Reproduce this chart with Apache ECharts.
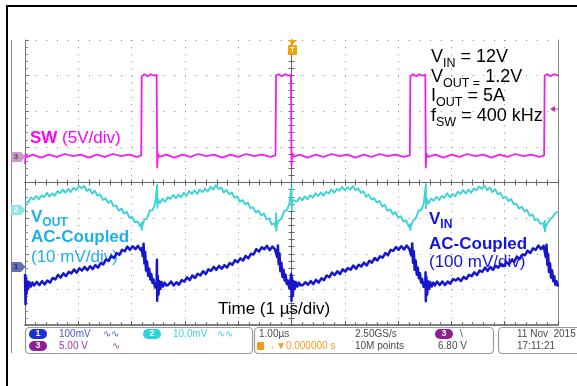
<!DOCTYPE html>
<html>
<head>
<meta charset="utf-8">
<title>Buck converter ripple</title>
<script src="https://cdn.jsdelivr.net/npm/echarts@6/dist/echarts.min.js"></script>
<style>
  html, body { margin: 0; padding: 0; background: #fff; }
  #main { width: 577px; height: 386px; }
</style>
</head>
<body>
<div id="main"></div>
<script>
// scope screen: 10 x 8 divisions, 1 us/div, trigger (SW falling edge) at t = 0
var timeRange = [-5, 5];
var divRange = [-4, 4];

// channel settings: scale per div and ground marker (div from screen centre)
var swScale = 5, swGround = 0.72;        // V/div
var voutScale = 10, voutGround = -0.77;  // mV/div
var vinScale = 100, vinGround = -2.37;   // mV/div

// SW node [us, V]
var swTrace = [
  [-5.00,-1.0],[-4.99,0.4],[-4.96,0.0],[-4.85,0.3],[-4.70,-0.1],[-4.55,0.3],[-4.40,0.0],[-4.25,0.4],[-4.10,0.1],[-3.95,0.3],[-3.80,-0.1],[-3.65,0.3],[-3.50,0.0],[-3.35,0.4],[-3.20,0.1],[-3.05,0.3],[-2.90,0.0],[-2.82,0.2],
  [-2.81,11.3],[-2.76,11.6],[-2.70,11.3],[-2.64,11.6],[-2.58,11.4],[-2.53,11.5],
  [-2.52,-1.5],[-2.51,0.5],[-2.48,0.0],[-2.35,0.3],[-2.20,-0.1],[-2.05,0.3],[-1.90,0.0],[-1.75,0.4],[-1.60,0.1],[-1.45,0.3],[-1.30,-0.1],[-1.15,0.3],[-1.00,0.0],[-0.85,0.4],[-0.70,0.1],[-0.55,0.3],[-0.40,0.0],[-0.30,0.2],
  [-0.29,11.4],[-0.24,11.6],[-0.18,11.3],[-0.12,11.6],[-0.06,11.4],[-0.01,11.5],
  [0.00,-1.3],[0.01,0.5],[0.04,0.0],[0.15,0.3],[0.30,-0.1],[0.45,0.3],[0.60,0.0],[0.75,0.4],[0.90,0.1],[1.05,0.3],[1.20,-0.1],[1.35,0.3],[1.50,0.0],[1.65,0.4],[1.80,0.1],[1.95,0.3],[2.10,0.0],[2.22,0.2],
  [2.23,11.3],[2.28,11.6],[2.34,11.3],[2.40,11.6],[2.46,11.4],[2.51,11.5],
  [2.52,-1.5],[2.53,0.5],[2.56,0.0],[2.70,0.3],[2.85,-0.1],[3.00,0.3],[3.15,0.0],[3.30,0.4],[3.45,0.1],[3.60,0.3],[3.75,-0.1],[3.90,0.3],[4.05,0.0],[4.20,0.4],[4.35,0.1],[4.50,0.3],[4.65,0.0],[4.74,0.2],
  [4.75,11.4],[4.80,11.6],[4.86,11.3],[4.92,11.6],[5.00,11.4]
];

// VOUT, AC coupled [us, mV]
var voutTrace = [
  [-5.00,2.4],[-4.99,2.7],[-4.94,2.1],[-4.89,3.5],[-4.84,2.9],[-4.79,3.9],[-4.74,3.0],[-4.69,4.1],[-4.64,3.6],[-4.59,4.8],[-4.54,3.8],[-4.49,4.6],[-4.44,4.0],[-4.39,5.3],[-4.34,4.7],[-4.29,5.7],[-4.24,4.8],[-4.19,5.9],[-4.14,5.0],[-4.09,6.2],[-4.04,5.6],[-3.99,6.7],[-3.94,6.1],[-3.89,6.7],[-3.84,5.3],[-3.79,5.9],[-3.74,4.6],[-3.69,5.4],[-3.64,4.0],[-3.59,4.4],[-3.54,2.8],[-3.49,3.3],[-3.44,2.0],[-3.39,2.6],[-3.34,1.1],[-3.29,1.2],[-3.24,-0.2],[-3.19,0.4],[-3.14,-1.0],[-3.09,-0.5],[-3.04,-2.2],[-2.99,-1.9],[-2.94,-3.5],[-2.89,-3.2],[-2.84,-4.6],[-2.815,-3.6],[-2.81,-5.6],[-2.80,-4.4],[-2.76,-2.7],[-2.71,-2.4],[-2.66,-0.2],[-2.61,-0.1],[-2.56,1.7],[-2.525,1.8],[-2.52,7.0],[-2.515,0.6],[-2.505,3.0],
  [-2.47,1.9],[-2.42,3.1],[-2.37,2.3],[-2.32,3.6],[-2.27,3.1],[-2.22,4.2],[-2.17,3.3],[-2.12,4.3],[-2.07,3.5],[-2.02,4.8],[-1.97,4.0],[-1.92,5.3],[-1.87,4.5],[-1.82,5.5],[-1.77,4.5],[-1.72,5.7],[-1.67,5.0],[-1.62,6.0],[-1.57,5.2],[-1.52,6.5],[-1.47,5.7],[-1.42,6.9],[-1.37,5.9],[-1.32,6.3],[-1.27,4.9],[-1.22,5.6],[-1.17,4.4],[-1.12,4.9],[-1.07,3.4],[-1.02,3.8],[-0.97,2.3],[-0.92,2.8],[-0.87,1.6],[-0.82,2.1],[-0.77,0.5],[-0.72,0.7],[-0.67,-0.7],[-0.62,-0.2],[-0.57,-1.6],[-0.52,-1.0],[-0.47,-2.6],[-0.42,-2.4],[-0.37,-4.1],[-0.32,-3.8],[-0.295,-5.0],[-0.29,-1.0],[-0.285,-5.8],[-0.275,-4.2],[-0.24,-3.0],[-0.19,-2.5],[-0.14,-0.4],[-0.09,-0.1],[-0.04,1.6],[-0.005,1.5],[0.00,6.5],[0.005,0.0],[0.015,2.8],
  [0.05,2.8],[0.10,2.3],[0.15,3.5],[0.20,2.7],[0.25,3.8],[0.30,3.0],[0.35,4.1],[0.40,3.5],[0.45,4.7],[0.50,3.9],[0.55,4.9],[0.60,4.0],[0.65,5.1],[0.70,4.6],[0.75,5.8],[0.80,4.8],[0.85,5.9],[0.90,5.4],[0.95,6.5],[1.00,5.5],[1.05,6.4],[1.10,5.7],[1.15,6.7],[1.20,5.5],[1.25,6.1],[1.30,4.8],[1.35,5.2],[1.40,3.7],[1.45,4.3],[1.50,2.9],[1.55,3.3],[1.60,2.1],[1.65,2.6],[1.70,1.0],[1.75,1.4],[1.80,-0.2],[1.85,0.2],[1.90,-1.2],[1.95,-0.6],[2.00,-2.1],[2.05,-1.8],[2.10,-3.2],[2.15,-2.9],[2.20,-4.7],[2.225,-4.0],[2.23,-5.6],[2.24,-4.5],[2.28,-3.0],[2.33,-2.4],[2.38,-0.3],[2.43,-0.1],[2.48,1.6],[2.515,1.7],[2.52,7.2],[2.525,0.5],[2.535,3.2],
  [2.57,1.8],[2.62,3.2],[2.67,2.6],[2.72,3.7],[2.77,2.8],[2.82,3.9],[2.87,3.4],[2.92,4.7],[2.97,3.6],[3.02,4.5],[3.07,3.8],[3.12,5.1],[3.17,4.5],[3.22,5.6],[3.27,4.6],[3.32,5.7],[3.37,4.8],[3.42,6.0],[3.47,5.5],[3.52,6.6],[3.57,5.9],[3.62,6.8],[3.67,5.6],[3.72,6.3],[3.77,5.0],[3.82,5.8],[3.87,4.4],[3.92,4.8],[3.97,3.3],[4.02,3.7],[4.07,2.5],[4.12,3.1],[4.17,1.6],[4.22,1.7],[4.27,0.4],[4.32,0.9],[4.37,-0.4],[4.42,0.0],[4.47,-1.7],[4.52,-1.3],[4.57,-2.9],[4.62,-2.6],[4.67,-3.9],[4.72,-3.7],[4.745,-5.2],[4.75,-3.0],[4.755,-6.0],[4.765,-4.8],[4.80,-3.8],[4.85,-2.6],[4.90,-2.0],[4.95,-0.9],[5.00,-0.5]
];

// VIN, AC coupled [us, mV]
var vinTrace = [
  [-5.00,-20],[-4.99,-105],[-4.98,-30],[-4.97,-75],[-4.96,-40],[-4.94,-62],[-4.92,-42],[-4.89,-55],[-4.86,-44],[-4.83,-52],
  [-4.78,-42],[-4.73,-51],[-4.68,-40],[-4.63,-49],[-4.58,-38],[-4.53,-44],[-4.48,-31],[-4.43,-35],[-4.38,-22],[-4.33,-30],[-4.28,-18],[-4.23,-26],[-4.18,-14],[-4.13,-18],[-4.08,-7],[-4.03,-16],[-3.98,-4],[-3.93,-10],[-3.88,0],[-3.83,-9],[-3.78,2],[-3.73,-6],[-3.68,5],[-3.63,-2],[-3.58,11],[-3.53,7],[-3.48,21],[-3.43,17],[-3.38,31],[-3.33,25],[-3.28,39],[-3.23,34],[-3.18,48],[-3.13,44],[-3.08,57],[-3.03,48],[-2.98,58],[-2.93,50],[-2.88,59],[-2.83,47],
  [-2.81,53],[-2.79,30],[-2.775,65],[-2.76,10],[-2.745,42],[-2.73,-10],[-2.71,15],[-2.69,-25],[-2.67,-5],[-2.65,-35],[-2.63,-20],[-2.61,-45],[-2.59,-35],[-2.56,-58],[-2.53,-50],[-2.525,20],[-2.52,-95],[-2.51,-25],[-2.495,-78],[-2.48,-40],[-2.46,-62],[-2.44,-42],[-2.41,-55],[-2.38,-44],[-2.35,-52],
  [-2.31,-50],[-2.26,-41],[-2.21,-52],[-2.16,-43],[-2.11,-50],[-2.06,-37],[-2.01,-41],[-1.96,-29],[-1.91,-37],[-1.86,-24],[-1.81,-31],[-1.76,-19],[-1.71,-24],[-1.66,-12],[-1.61,-20],[-1.56,-7],[-1.51,-11],[-1.46,0],[-1.41,-8],[-1.36,3],[-1.31,-5],[-1.26,5],[-1.21,-2],[-1.16,11],[-1.11,6],[-1.06,19],[-1.01,13],[-0.96,24],[-0.91,18],[-0.86,31],[-0.81,24],[-0.76,37],[-0.71,35],[-0.66,50],[-0.61,43],[-0.56,55],[-0.51,50],[-0.46,59],[-0.41,47],[-0.36,57],[-0.31,49],
  [-0.29,53],[-0.27,28],[-0.255,60],[-0.24,8],[-0.225,38],[-0.21,-12],[-0.19,12],[-0.17,-28],[-0.15,-8],[-0.13,-38],[-0.11,-22],[-0.09,-48],[-0.07,-38],[-0.04,-60],[-0.01,-55],[-0.005,-20],[0.00,-95],[0.01,-30],[0.025,-80],[0.04,-40],[0.06,-62],[0.08,-42],[0.11,-55],[0.14,-44],[0.17,-52],
  [0.21,-51],[0.26,-43],[0.31,-50],[0.36,-40],[0.41,-48],[0.46,-36],[0.51,-44],[0.56,-32],[0.61,-37],[0.66,-24],[0.71,-29],[0.76,-16],[0.81,-23],[0.86,-12],[0.91,-20],[0.96,-7],[1.01,-13],[1.06,-3],[1.11,-8],[1.16,4],[1.21,-5],[1.26,6],[1.31,1],[1.36,12],[1.41,4],[1.46,17],[1.51,12],[1.56,25],[1.61,18],[1.66,30],[1.71,26],[1.76,39],[1.81,33],[1.86,48],[1.91,45],[1.96,56],[2.01,48],[2.06,58],[2.11,49],[2.16,60],[2.21,50],
  [2.23,53],[2.25,32],[2.265,66],[2.28,12],[2.295,44],[2.31,-8],[2.33,18],[2.35,-22],[2.37,-2],[2.39,-32],[2.41,-18],[2.43,-44],[2.45,-34],[2.48,-56],[2.51,-50],[2.515,-15],[2.52,-96],[2.53,-28],[2.545,-78],[2.56,-40],[2.58,-62],[2.60,-42],[2.63,-55],[2.66,-44],[2.69,-52],
  [2.73,-41],[2.78,-51],[2.83,-41],[2.88,-51],[2.93,-41],[2.98,-47],[3.03,-34],[3.08,-38],[3.13,-32],[3.18,-40],[3.23,-28],[3.28,-34],[3.33,-22],[3.38,-26],[3.43,-15],[3.48,-23],[3.53,-10],[3.58,-14],[3.63,-2],[3.68,-11],[3.73,0],[3.78,-8],[3.83,3],[3.88,-2],[3.93,9],[3.98,2],[4.03,14],[4.08,7],[4.13,19],[4.18,15],[4.23,29],[4.28,22],[4.33,35],[4.38,33],[4.43,46],[4.48,39],[4.53,52],[4.58,48],[4.63,60],[4.68,50],[4.73,59],
  [4.75,55],[4.77,28],[4.785,62],[4.80,6],[4.815,36],[4.83,-14],[4.85,10],[4.87,-30],[4.89,-10],[4.91,-40],[4.93,-26],[4.95,-50],[4.97,-40],[5.00,-55]
];

// status bar of the scope
var statusTexts = [
  [59, 334, '100mV', '#4a55e6'], [103, 334, '\u223f\u223f', '#4a55e6'],
  [173, 334, '10.0mV', '#3ad6e0'], [217, 334, '\u223f\u223f', '#3ad6e0'],
  [59, 346, '5.00 V', '#a437a8'], [112, 346, '\u223f', '#a437a8'],
  [259, 334, '1.00\u00b5s', '#4a4a4a'], [266, 346, '\u2192\u25bc0.000000 s', '#f29b1d'],
  [355, 334, '2.50GS/s', '#4a4a4a'], [355, 346, '10M points', '#4a4a4a'],
  [460, 334, '\\', '#4a4a4a'], [438, 346, '6.80 V', '#4a4a4a'],
  [517, 334, '11 Nov  2015', '#4a4a4a'], [517, 346, '17:11:21', '#4a4a4a']
];

var FONT = 'Liberation Sans, Arial, sans-serif';
var swColor = '#f01ef0', voutColor = '#3ad4d6', vinColor = '#1616cc';
var voutText = '#20b0e8', vinText = '#1414e0';

function tok(size, color, bold, padTop) {
  var s = { fontSize: size, fontFamily: FONT, fontWeight: bold ? 'bold' : 'normal',
            fill: color, lineHeight: size, verticalAlign: 'top' };
  if (padTop) s.padding = [padTop, 0, 0, 0];
  return s;
}

function richText(x, y, text, rich) {
  return { type: 'text', x: x, y: y, z: 1, silent: true,
           style: { text: text, rich: rich, align: 'left', verticalAlign: 'top' } };
}

function smallText(x, y, text, color) {
  return { type: 'text', x: x, y: y, z: 6, silent: true,
           style: { text: text, fill: color, font: '10px ' + FONT, align: 'left', verticalAlign: 'middle' } };
}

function badge(x, y, num, color) {
  return [
    { type: 'rect', z: 6, silent: true, shape: { x: x, y: y - 5, width: 18, height: 10, r: 5 }, style: { fill: color } },
    { type: 'text', z: 7, silent: true, x: x + 9, y: y,
      style: { text: num, fill: '#fff', font: 'bold 9px ' + FONT, align: 'center', verticalAlign: 'middle' } }
  ];
}

function groundMarker(yc, color, num, numColor) {
  return [
    { type: 'polygon', z: 6, silent: true,
      shape: { points: [[11, yc - 5], [21, yc - 5], [25.5, yc], [21, yc + 5], [11, yc + 5]] },
      style: { fill: color } },
    { type: 'text', z: 7, silent: true, x: 16, y: yc,
      style: { text: num, fill: numColor, font: 'bold 8px ' + FONT, align: 'center', verticalAlign: 'middle' } }
  ];
}

var black = { m: tok(18, '#000'), s: tok(12.5, '#000', false, 9) };
var swRich = { b: tok(17, '#ff00ff', true), r: tok(17, '#ff00ff') };
var voutRich = { b: tok(17, voutText, true), s: tok(12, voutText, true, 8), r: tok(17, voutText) };
var vinRich = { b: tok(17, vinText, true), s: tok(12, vinText, true, 8), r: tok(17, vinText) };

var graphics = [
  // outer frame
  { type: 'line', z: 8, silent: true, shape: { x1: 7, y1: 5, x2: 7, y2: 386 }, style: { stroke: '#000', lineWidth: 2 } },
  { type: 'line', z: 8, silent: true, shape: { x1: 6, y1: 6, x2: 577, y2: 6 }, style: { stroke: '#000', lineWidth: 2 } },
  { type: 'line', z: 5, silent: true, shape: { x1: 11.5, y1: 40, x2: 11.5, y2: 353 }, style: { stroke: '#8a8a8a', lineWidth: 1 } },

  // annotations
  richText(30, 130, '{b|SW}{r| (5V/div)}', swRich),
  richText(431, 48, '{m|V}{s|IN}{m| = 12V}', black),
  richText(431, 68, '{m|V}{s|OUT =}{m| 1.2V}', black),
  richText(431, 87.5, '{m|I}{s|OUT}{m| = 5A}', black),
  richText(431, 107, '{m|f}{s|SW}{m| = 400 kHz}', black),
  richText(31, 209, '{b|V}{s|OUT}', voutRich),
  richText(31, 229, '{b|AC-Coupled}', voutRich),
  richText(31, 248.6, '{r|(10 mV/div)}', voutRich),
  richText(429, 210.6, '{b|V}{s|IN}', vinRich),
  richText(429, 235.6, '{b|AC-Coupled}', vinRich),
  richText(429, 254, '{r|(100 mV/div)}', vinRich),
  richText(218, 300.6, '{r|Time (1 \u00b5s/div)}', { r: tok(17, '#000') }),

  // trigger position and level
  { type: 'polygon', z: 6, silent: true, shape: { points: [[288, 40], [297, 40], [292.5, 44.5]] }, style: { fill: '#f5a000' } },
  { type: 'rect', z: 6, silent: true, shape: { x: 288, y: 45, width: 9, height: 10, r: 1 }, style: { fill: '#f5a000' } },
  { type: 'text', z: 7, silent: true, x: 292.5, y: 50, style: { text: 'T', fill: '#fff', font: 'bold 8px ' + FONT, align: 'center', verticalAlign: 'middle' } },
  { type: 'polygon', z: 6, silent: true, shape: { points: [[550, 109], [555, 106], [555, 112]] }, style: { fill: '#c030c0' } },
  { type: 'line', z: 6, silent: true, shape: { x1: 555, y1: 109, x2: 558, y2: 109 }, style: { stroke: '#c030c0', lineWidth: 1 } },

  // status boxes
  { type: 'rect', z: 5, silent: true, shape: { x: 25.5, y: 327.5, width: 227, height: 26, r: 4 }, style: { fill: '#fff', stroke: '#9a9a9a', lineWidth: 1.2 } },
  { type: 'rect', z: 5, silent: true, shape: { x: 254.5, y: 327.5, width: 239, height: 26, r: 4 }, style: { fill: '#fff', stroke: '#9a9a9a', lineWidth: 1.2 } },
  { type: 'rect', z: 5, silent: true, shape: { x: 498.5, y: 327.5, width: 90, height: 26, r: 4 }, style: { fill: '#fff', stroke: '#9a9a9a', lineWidth: 1.2 } },
  { type: 'rect', z: 6, silent: true, shape: { x: 257, y: 342, width: 7, height: 8, r: 1 }, style: { fill: '#f29b1d' } }
]
  .concat(badge(29, 334, '1', '#1c2fd6'))
  .concat(badge(143, 334, '2', '#2ed3d8'))
  .concat(badge(29, 346, '3', '#8e1d96'))
  .concat(badge(435, 334, '3', '#8e1d96'))
  .concat(groundMarker(157, '#c69cc6', '3', '#6a3a6a'))
  .concat(groundMarker(210, '#8fe4e4', '2', '#ffffff'))
  .concat(groundMarker(267, '#6670b6', '1', '#222a66'))
  .concat(statusTexts.map(function (t) { return smallText(t[0], t[1], t[2], t[3]); }));

function chanAxis(scale, ground) {
  return { type: 'value', show: false, min: (divRange[0] - ground) * scale, max: (divRange[1] - ground) * scale };
}

function centreX(inside) {
  return { type: 'value', min: timeRange[0], max: timeRange[1], interval: 1, position: 'bottom',
           axisLine: { onZero: true, onZeroAxisIndex: 0, lineStyle: { color: '#666', width: 1 } },
           axisTick: { inside: inside, length: 3, lineStyle: { color: '#666' } },
           minorTick: { show: true, splitNumber: 5, length: 3, lineStyle: { color: '#666' } },
           axisLabel: { show: false }, splitLine: { show: false } };
}

function centreY(inside) {
  return { type: 'value', min: divRange[0], max: divRange[1], interval: 1, position: 'left',
           axisLine: { onZero: true, onZeroAxisIndex: 0, lineStyle: { color: '#666', width: 1 } },
           axisTick: { inside: inside, length: 3, lineStyle: { color: '#666' } },
           minorTick: { show: true, splitNumber: 5, length: 3, lineStyle: { color: '#666' } },
           axisLabel: { show: false }, splitLine: { show: false } };
}

function trace(data, yIndex, color, width) {
  return { type: 'line', xAxisIndex: 0, yAxisIndex: yIndex, data: data, showSymbol: false,
           silent: true, lineStyle: { color: color, width: width, join: 'round' } };
}

var chart = echarts.init(document.getElementById('main'), null, { renderer: 'canvas' });
chart.setOption({
  animation: false,
  backgroundColor: '#fff',
  grid: { left: 25, top: 40, width: 533, height: 285, containLabel: false },
  xAxis: [
    { type: 'value', min: timeRange[0], max: timeRange[1], interval: 1, position: 'bottom',
      axisLine: { onZero: false, lineStyle: { color: '#555', width: 1.5 } },
      axisTick: { inside: true, length: 4, lineStyle: { color: '#555' } },
      minorTick: { show: true, splitNumber: 5, length: 3, lineStyle: { color: '#777' } },
      axisLabel: { show: false },
      splitLine: { show: true, lineStyle: { color: '#8c8c8c', width: 1, type: [1, 6.12] } } },
    centreX(true),
    centreX(false)
  ],
  yAxis: [
    { type: 'value', min: divRange[0], max: divRange[1], interval: 1, position: 'left',
      axisLine: { onZero: false, lineStyle: { color: '#777', width: 1 } },
      axisTick: { inside: true, length: 4, lineStyle: { color: '#777' } },
      minorTick: { show: true, splitNumber: 5, length: 3, lineStyle: { color: '#888' } },
      axisLabel: { show: false },
      splitLine: { show: true, lineStyle: { color: '#8c8c8c', width: 1, type: [1, 9.66] } } },
    centreY(true),
    centreY(false),
    { type: 'value', min: divRange[0], max: divRange[1], interval: 1, position: 'right',
      axisLine: { onZero: false, lineStyle: { color: '#888', width: 1 } },
      axisTick: { show: false }, axisLabel: { show: false }, splitLine: { show: false } },
    chanAxis(swScale, swGround),
    chanAxis(voutScale, voutGround),
    chanAxis(vinScale, vinGround)
  ],
  series: [
    trace(swTrace, 4, swColor, 1.8),
    trace(voutTrace, 5, voutColor, 1.9),
    trace(vinTrace, 6, vinColor, 2.5)
  ],
  graphic: { elements: graphics }
});
</script>
</body>
</html>
